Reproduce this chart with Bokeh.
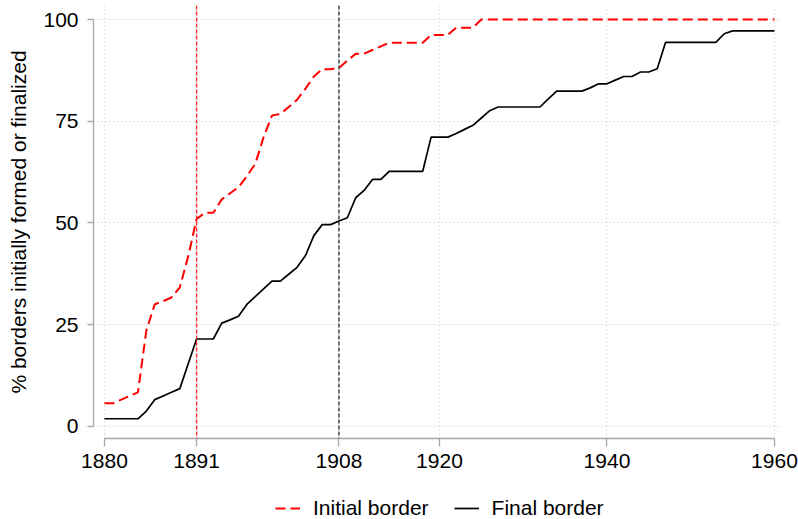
from bokeh.plotting import figure
from bokeh.layouts import column
from bokeh.models import Range1d, FixedTicker, Span, Legend, LegendItem, ColumnDataSource
from bokeh.embed import file_html
from bokeh.resources import INLINE

years = list(range(1880, 1961))
initial_border = [
    5.7, 5.7, 6.6, 7.5, 8.4, 23.6, 30.0, 30.8, 31.7, 34.2,   # 1880-1889
    41.8, 51.0, 52.5, 52.5, 55.8, 57.3, 58.8, 61.5, 64.5, 71.1,  # 1890-1899
    76.4, 76.8, 78.5, 80.3, 83.0, 86.0, 87.8, 87.8, 88.1, 89.9,  # 1900-1909
    91.6, 91.6, 92.5, 93.4, 94.3, 94.3, 94.3, 94.3, 94.3, 96.2,  # 1910-1919
    96.2, 96.2, 98.0, 98.0, 98.0, 100.0, 100.0, 100.0, 100.0, 100.0,  # 1920-1929
    100.0, 100.0, 100.0, 100.0, 100.0, 100.0, 100.0, 100.0, 100.0, 100.0,  # 1930-1939
    100.0, 100.0, 100.0, 100.0, 100.0, 100.0, 100.0, 100.0, 100.0, 100.0,  # 1940-1949
    100.0, 100.0, 100.0, 100.0, 100.0, 100.0, 100.0, 100.0, 100.0, 100.0,  # 1950-1959
    100.0,  # 1960
]
final_border = [
    1.9, 1.9, 1.9, 1.9, 1.9, 3.8, 6.6, 7.5, 8.4, 9.3,  # 1880-1889
    15.4, 21.5, 21.5, 21.5, 25.4, 26.2, 27.1, 30.0, 31.9, 33.8,  # 1890-1899
    35.7, 35.7, 37.4, 39.1, 42.0, 46.9, 49.6, 49.6, 50.5, 51.3,  # 1900-1909
    56.2, 58.0, 60.7, 60.7, 62.7, 62.7, 62.7, 62.7, 62.7, 71.1,  # 1910-1919
    71.1, 71.1, 72.0, 73.0, 74.0, 75.8, 77.6, 78.5, 78.5, 78.5,  # 1920-1929
    78.5, 78.5, 78.5, 80.5, 82.4, 82.4, 82.4, 82.4, 83.2, 84.2,  # 1930-1939
    84.2, 85.1, 86.0, 86.0, 87.1, 87.1, 87.9, 94.4, 94.4, 94.4,  # 1940-1949
    94.4, 94.4, 94.4, 94.4, 96.5, 97.2, 97.2, 97.2, 97.2, 97.2,  # 1950-1959
    97.2,  # 1960
]
x_ticks = [1880, 1891, 1908, 1920, 1940, 1960]
y_ticks = [0, 25, 50, 75, 100]
event_years = [1891, 1908]
event_colors = ["#ff2a2a", "#3a3a3a"]
series_labels = ["Initial border", "Final border"]
series_colors = ["#ff0000", "black"]
series_dashes = ["10 5", "solid"]
series_widths = [2, 1.7]
y_title = "% borders initially formed or finalized"

assert len(initial_border) == len(years) == len(final_border)

FONT = "Liberation Sans"

src = ColumnDataSource(dict(year=years, initial=initial_border, final=final_border))

p = figure(width=798, height=478, output_backend="svg", toolbar_location=None,
           x_range=Range1d(1878.69, 1960.84), y_range=Range1d(-2.95, 103.44),
           min_border_left=93, min_border_right=17, min_border_top=5,
           min_border_bottom=40)
p.outline_line_color = None
p.background_fill_color = "white"
p.border_fill_color = "white"

# grid
for g in (p.xgrid, p.ygrid):
    g.grid_line_color = "#c4c4c4"
    g.grid_line_dash = "1 3"
    g.grid_line_width = 1
p.xgrid.ticker = FixedTicker(ticks=x_ticks)
p.ygrid.ticker = FixedTicker(ticks=y_ticks)

# axes
p.xaxis.ticker = FixedTicker(ticks=x_ticks)
p.yaxis.ticker = FixedTicker(ticks=y_ticks)
p.xaxis.bounds = (x_ticks[0], x_ticks[-1])
p.yaxis.bounds = (y_ticks[0], y_ticks[-1])
for ax in (p.xaxis, p.yaxis):
    ax.axis_line_color = "#a8a8a8"
    ax.axis_line_width = 1.3
    ax.major_tick_line_color = "#a8a8a8"
    ax.major_tick_line_width = 1.3
    ax.major_tick_in = 0
    ax.minor_tick_line_color = None
    ax.major_label_text_font = FONT
    ax.major_label_text_font_size = "21px"
    ax.major_label_text_color = "black"
p.xaxis.major_tick_out = 8
p.yaxis.major_tick_out = 6
p.xaxis.major_label_standoff = 7
p.yaxis.major_label_standoff = 9
p.yaxis.axis_label = y_title
p.yaxis.axis_label_text_font = FONT
p.yaxis.axis_label_text_font_size = "21px"
p.yaxis.axis_label_text_font_style = "normal"
p.yaxis.axis_label_text_color = "black"
p.yaxis.axis_label_standoff = 10

# reference lines
for yr, col in zip(event_years, event_colors):
    p.add_layout(Span(location=yr, dimension="height", line_color=col,
                      line_width=1.4, line_dash="4 2"))

p.line("year", "initial", source=src, line_color=series_colors[0],
       line_width=series_widths[0], line_dash=series_dashes[0])
p.line("year", "final", source=src, line_color=series_colors[1],
       line_width=series_widths[1], line_dash=series_dashes[1])

# legend strip below the plot (frame aligned with the main plot's frame);
# its proxy lines use the same data but fall outside this strip's ranges
lf = figure(width=798, height=41, output_backend="svg", toolbar_location=None,
            x_range=Range1d(0, 1), y_range=Range1d(0, 1),
            min_border_left=93, min_border_right=17, min_border_top=0,
            min_border_bottom=0)
lf.axis.visible = False
lf.grid.visible = False
lf.outline_line_color = None
lf.background_fill_color = "white"
lf.border_fill_color = "white"
items = []
for lab, col, dash, w, field in zip(series_labels, series_colors, series_dashes,
                                    series_widths, ["initial", "final"]):
    r = lf.line("year", field, source=src, line_color=col, line_dash=dash, line_width=w)
    items.append(LegendItem(label=lab, renderers=[r]))
legend = Legend(items=items, orientation="horizontal", location=(178, -5))
legend.label_text_font = FONT
legend.label_text_font_size = "21px"
legend.label_text_color = "black"
legend.glyph_width = 25
legend.glyph_height = 20
legend.label_standoff = 13
legend.spacing = 25
legend.margin = 0
legend.padding = 4
legend.border_line_alpha = 0
legend.background_fill_alpha = 0
lf.add_layout(legend, "center")

layout = column(p, lf, spacing=0)
open("out.html", "w").write(file_html(layout, INLINE))
